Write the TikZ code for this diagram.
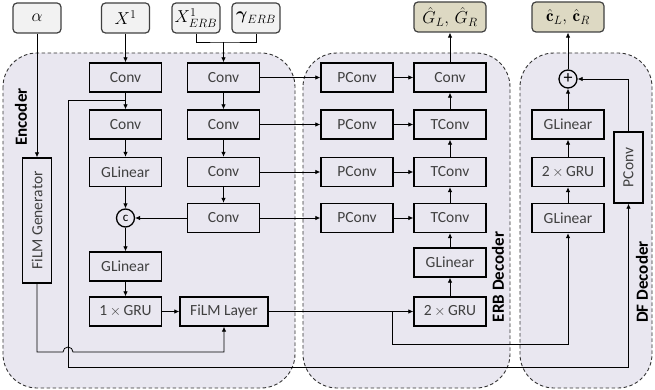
\documentclass[tikz,border=0pt]{standalone}
\usepackage{fontspec}
\usepackage{amsmath}
\setsansfont{Carlito}
\usetikzlibrary{arrows.meta}
\definecolor{regfill}{HTML}{E9E7F0}
\definecolor{infill}{HTML}{F2F2F2}
\definecolor{outfill}{HTML}{DDD9C3}
\begin{document}
\begin{tikzpicture}[x=1pt,y=-1pt,
 box/.style={draw=black, line width=1.4pt, fill=regfill, minimum width=72pt, minimum height=29pt, inner sep=0pt, text=black!75, font=\sffamily\fontsize{15.5}{18}\selectfont},
 inbox/.style={draw=black!75, line width=1.2pt, rounded corners=4pt, fill=infill, minimum width=48pt, minimum height=30pt, inner sep=0pt, font=\fontsize{17}{20}\selectfont},
 outbox/.style={inbox, fill=outfill, minimum width=72pt},
 region/.style={draw=black!80, line width=0.9pt, dash pattern=on 3.5pt off 2.5pt, fill=regfill, rounded corners=34pt},
 arr/.style={-{Latex[length=5pt,width=4.5pt]}, line width=0.8pt},
 ln/.style={line width=0.8pt},
 circ/.style={circle, draw=black, line width=1.3pt, minimum size=18pt, inner sep=0pt, fill=regfill},
 lbl/.style={inner sep=0pt, font=\sffamily\bfseries\fontsize{17}{20}\selectfont}
]
\useasboundingbox (0,0) rectangle (655,390);
% regions
\draw[region] (3,53) rectangle (295,388);
\draw[region] (303,53) rectangle (510,388);
\draw[region] (520,53) rectangle (652,388);
\node[lbl] (lenc) at (21,117) {\rotatebox{90}{Encoder}};
\node[lbl] (lerb) at (498,277) {\rotatebox{90}{ERB Decoder}};
\node[lbl] (ldf) at (642,282) {\rotatebox{90}{DF Decoder}};
% inputs / outputs
\node[inbox] (alpha) at (37,18) {$\alpha$};
\node[inbox] (x1) at (125.5,18) {$X^1$};
\node[inbox] (xerb) at (196,18) {$X^1_{ERB}$};
\node[inbox] (gerb) at (256,18) {$\boldsymbol{\gamma}_{ERB}$};
\node[outbox] (gout) at (450,17) {$\hat{G}_{L},\,\hat{G}_{R}$};
\node[outbox] (cout) at (568,17) {$\hat{\mathbf{c}}_L,\,\hat{\mathbf{c}}_R$};
% encoder
\node[box] (e1) at (125.5,77.5) {Conv};
\node[box] (e2) at (125.5,124.5) {Conv};
\node[box] (e3) at (125.5,172) {GLinear};
\node[circ, font=\sffamily\fontsize{13}{15}\selectfont] (cat) at (125.5,218) {c};
\node[box] (e5) at (125.5,266.5) {GLinear};
\node[box] (gru1) at (125.5,311.5) {1\,$\times$\,GRU};
\node[box, minimum width=88pt] (film) at (224,311.5) {FiLM Layer};
\node[box, minimum width=29pt, minimum height=125pt] (fg) at (37,220.5) {\rotatebox{90}{FiLM Generator}};
\node[box] (f1) at (223.5,77.5) {Conv};
\node[box] (f2) at (223.5,124.5) {Conv};
\node[box] (f3) at (223.5,172) {Conv};
\node[box] (f4) at (223.5,218) {Conv};
% ERB decoder
\node[box] (p1) at (357,77.5) {PConv};
\node[box] (p2) at (357,124.5) {PConv};
\node[box] (p3) at (357,172) {PConv};
\node[box] (p4) at (357,218) {PConv};
\node[box] (d1) at (450,77.5) {Conv};
\node[box] (d2) at (450,124.5) {TConv};
\node[box] (d3) at (450,172) {TConv};
\node[box] (d4) at (450,218) {TConv};
\node[box] (dgl) at (450,262.5) {GLinear};
\node[box] (dgru) at (450,311.5) {2\,$\times$\,GRU};
% DF decoder
\node[circ, font=\sffamily\fontsize{18}{18}\selectfont] (plus) at (568,79) {+};
\node[box] (q1) at (568,124.5) {GLinear};
\node[box] (q2) at (568,172) {2\,$\times$\,GRU};
\node[box] (q3) at (568,218) {GLinear};
\node[box, minimum width=29pt, minimum height=71pt] (dfp) at (628.5,167.5) {\rotatebox{90}{PConv}};
% connectors: inputs
\draw[arr] (alpha) -- (fg);
\draw[arr] (x1) -- (e1);
\coordinate (mrg) at (223.5,42);
\draw[ln] (xerb.south) |- (mrg) -| (gerb.south);
\draw[arr] (mrg) -- (f1);
% encoder column 1
\draw[arr] (e1) -- (e2);
\draw[arr] (e2) -- (e3);
\draw[arr] (e3) -- (cat);
\draw[arr] (cat) -- (e5);
\draw[arr] (e5) -- (gru1);
\draw[arr] (gru1) -- (film);
\coordinate (b1) at (125.5,100);
\coordinate (bl) at (68,367);
\draw[arr] (b1) -| (bl) -| (dfp.south);
% encoder column 2
\draw[arr] (f1) -- (f2);
\draw[arr] (f2) -- (f3);
\draw[arr] (f3) -- (f4);
\draw[arr] (f4) -- (cat);
\draw[arr] (f1) -- (p1);
\draw[arr] (f2) -- (p2);
\draw[arr] (f3) -- (p3);
\draw[arr] (f4) -- (p4);
% film generator with hop
\coordinate (h1) at (37,352);
\coordinate (h2) at (63,352);
\coordinate (h3) at (224,352);
\draw[arr] (fg.south) -- (h1) -- (h2) arc[start angle=180, end angle=360, radius=5] -- (h3) -- (film.south);
% ERB decoder
\draw[arr] (p1) -- (d1);
\draw[arr] (p2) -- (d2);
\draw[arr] (p3) -- (d3);
\draw[arr] (p4) -- (d4);
\draw[arr] (film) -- (dgru);
\draw[arr] (dgru) -- (dgl);
\draw[arr] (dgl) -- (d4);
\draw[arr] (d4) -- (d3);
\draw[arr] (d3) -- (d2);
\draw[arr] (d2) -- (d1);
\draw[arr] (d1) -- (gout);
\coordinate (b2) at (392,311.5);
\coordinate (b2d) at (392,344);
\draw[arr] (b2) -- (b2d) -| (q3.south);
% DF decoder
\draw[arr] (q3) -- (q2);
\draw[arr] (q2) -- (q1);
\draw[arr] (q1) -- (plus);
\draw[arr] (plus) -- (cout);
\draw[arr] (dfp.north) |- (plus.east);
\end{tikzpicture}
\end{document}
